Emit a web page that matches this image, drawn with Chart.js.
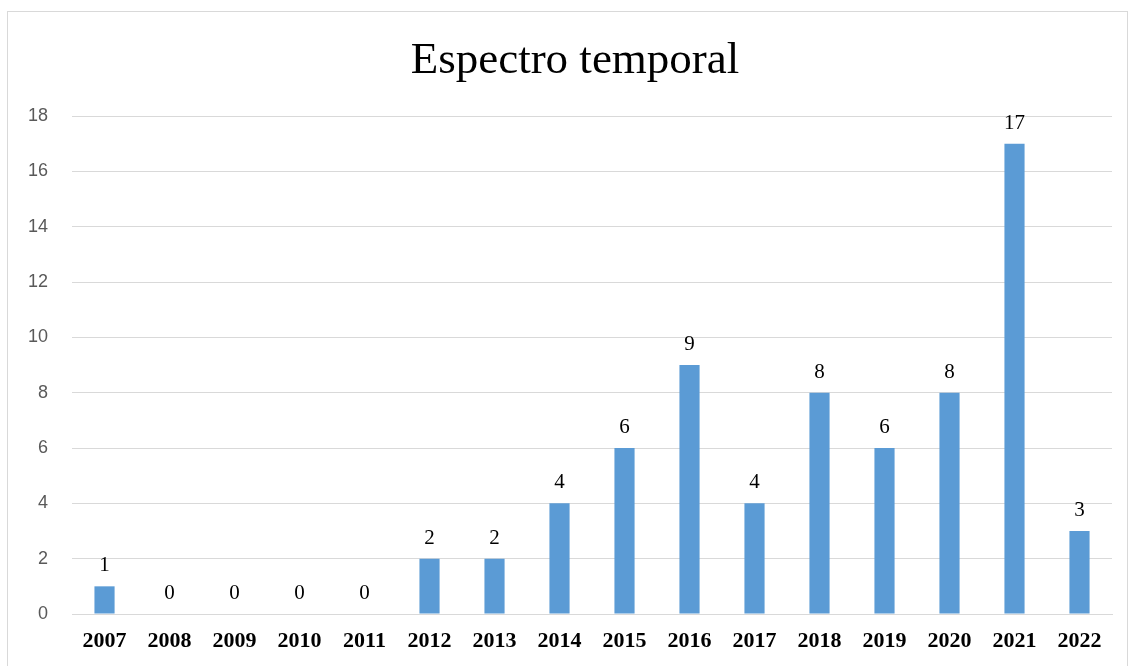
<!DOCTYPE html>
<html>
<head>
<meta charset="utf-8">
<script src="https://cdn.jsdelivr.net/npm/chart.js@4"></script>
<style>
  html, body { margin: 0; padding: 0; background: #fff; }
  #wrap { position: relative; width: 1131px; height: 666px; }
  #frame { position: absolute; left: 7px; top: 11px; width: 1121px; height: 670px; border: 1px solid #d9d9d9; box-sizing: border-box; }
  canvas { position: absolute; left: 0; top: 0; }
</style>
</head>
<body>
<div id="wrap">
  <div id="frame"></div>
  <canvas id="chart" width="1131" height="666"></canvas>
</div>
<script>
// Data
const chartTitle = "Espectro temporal";
const years = ["2007", "2008", "2009", "2010", "2011", "2012", "2013", "2014",
               "2015", "2016", "2017", "2018", "2019", "2020", "2021", "2022"];
const counts = [1, 0, 0, 0, 0, 2, 2, 4, 6, 9, 4, 8, 6, 8, 17, 3];
const yTicks = [0, 2, 4, 6, 8, 10, 12, 14, 16, 18];

// value labels above each bar + title centred on the frame
const barLabels = {
  id: "barLabels",
  afterDatasetsDraw(chart) {
    const ctx = chart.ctx;
    const meta = chart.getDatasetMeta(0);
    ctx.save();
    ctx.font = "21px 'Liberation Serif'";
    ctx.fillStyle = "#000";
    ctx.textAlign = "center";
    ctx.textBaseline = "bottom";
    meta.data.forEach((bar, i) => {
      ctx.fillText(String(counts[i]), bar.x, bar.y - 10);
    });
    ctx.font = "45px 'Liberation Serif'";
    ctx.textBaseline = "middle";
    ctx.fillText(chartTitle, 575, 61);
    ctx.restore();
  }
};

const ctx = document.getElementById("chart").getContext("2d");
new Chart(ctx, {
  type: "bar",
  data: {
    labels: years,
    datasets: [{
      label: chartTitle,
      data: counts,
      backgroundColor: "#5B9BD5",
      borderWidth: 0,
      categoryPercentage: 1,
      barPercentage: 0.31
    }]
  },
  options: {
    responsive: false,
    animation: false,
    layout: { padding: { left: 4, right: 19, top: 116, bottom: 12 } },
    plugins: {
      legend: { display: false },
      tooltip: { enabled: false },
      title: { display: false }
    },
    scales: {
      x: {
        grid: { display: false, drawTicks: false },
        border: { color: "#d9d9d9" },
        afterFit(axis) { axis.height = 40; },
        ticks: {
          color: "#000",
          padding: 14,
          font: { family: "'Liberation Serif'", size: 22, weight: "bold" }
        }
      },
      y: {
        min: 0,
        max: 18,
        afterBuildTicks(axis) { axis.ticks = yTicks.map(v => ({ value: v })); },
        grid: { color: "#d9d9d9", drawTicks: false },
        border: { display: false },
        ticks: {
          color: "#595959",
          padding: 24,
          font: { family: "'Liberation Sans'", size: 18 }
        }
      }
    }
  },
  plugins: [barLabels]
});
</script>
</body>
</html>
